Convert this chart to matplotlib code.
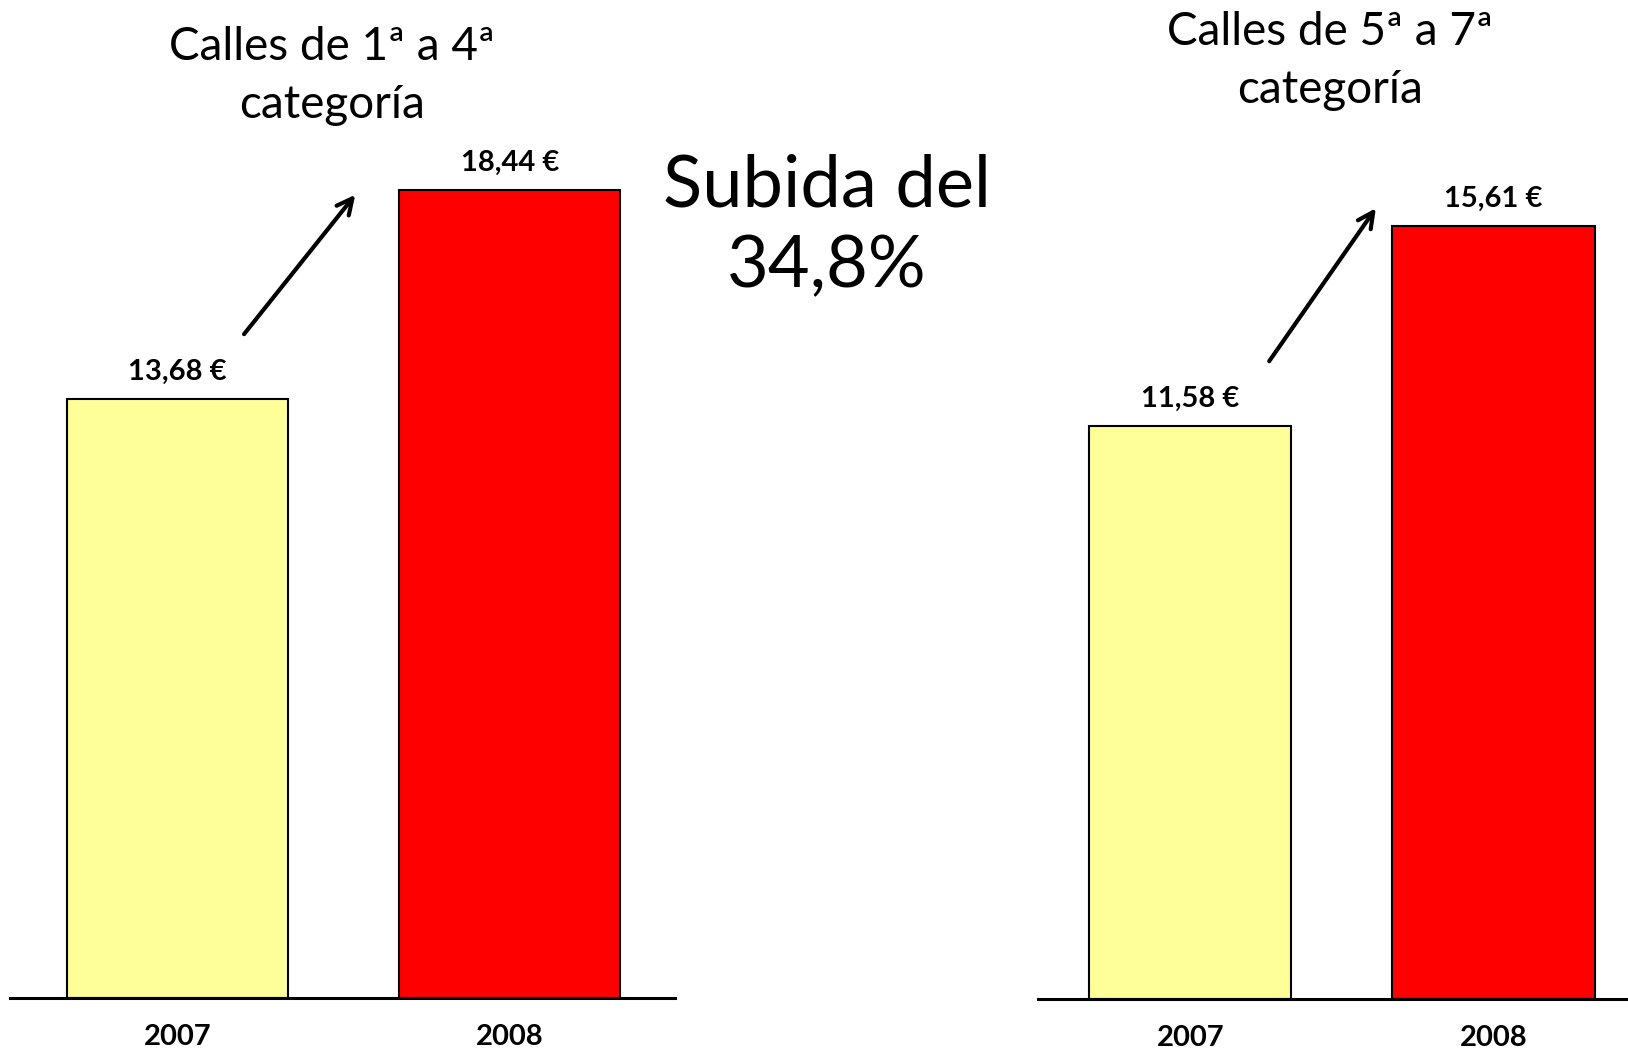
import numpy as np
import matplotlib
matplotlib.use('Agg')
import matplotlib.pyplot as plt

plt.rcParams['font.family'] = ['Lato', 'DejaVu Sans']

years = ['2007', '2008']
cat_1_4 = [13.68, 18.44]
cat_5_7 = [11.58, 15.61]
titles = ['Calles de 1ª a 4ª\ncategoría', 'Calles de 5ª a 7ª\ncategoría']
subida_text = 'Subida del\n34,8%'
bar_colors = ['#FFFF99', '#FF0000']

W, H = 1628, 1051
fig = plt.figure(figsize=(W / 100, H / 100), dpi=100)


def px_axes(x0, x1, y_base):
    # axes from pixel coords (top-left origin), running up to the top edge
    return fig.add_axes([x0 / W, 1 - y_base / H, (x1 - x0) / W, y_base / H])


def draw_panel(ax, values, ymax, xlim, arrow_from, arrow_to):
    x = np.arange(len(values))
    bars = ax.bar(x, values, width=0.667, color=bar_colors,
                  edgecolor='black', linewidth=1.5, zorder=2)
    labels = [f'{v:.2f}'.replace('.', ',') + ' €' for v in values]
    ax.bar_label(bars, labels, padding=10, fontsize=21, fontweight='bold')
    ax.set_xlim(*xlim)
    ax.set_ylim(0, ymax)
    ax.set_xticks(x, years, fontsize=21, fontweight='bold')
    ax.tick_params(axis='x', length=0, pad=19)
    ax.set_yticks([])
    for side in ['left', 'right', 'top']:
        ax.spines[side].set_visible(False)
    ax.spines['bottom'].set_linewidth(2.2)
    ax.spines['bottom'].set_color('black')
    ax.patch.set_alpha(0)
    ax.annotate('', xy=arrow_to, xytext=arrow_from,
                arrowprops=dict(arrowstyle='->', lw=3, color='black',
                                mutation_scale=28, shrinkA=0, shrinkB=0))


ax1 = px_axes(10, 675, 998)
draw_panel(ax1, cat_1_4, 998 / 43.82, (-0.505, 1.498),
           (0.20, cat_1_4[0] + 1.47), (0.535, cat_1_4[1] - 0.11))

ax2 = px_axes(1038, 1628, 999)
draw_panel(ax2, cat_5_7, 999 / 49.52, (-0.503, 1.444),
           (0.26, cat_5_7[0] + 1.30), (0.612, cat_5_7[1] + 0.36))

fig.text(332 / W, 1 - 76 / H, titles[0], ha='center', va='center',
         fontsize=33, linespacing=1.45)
fig.text(1330 / W, 1 - 61 / H, titles[1], ha='center', va='center',
         fontsize=33, linespacing=1.45)
fig.text(827 / W, 1 - 226 / H, subida_text, ha='center', va='center',
         fontsize=52, linespacing=1.3)

fig.savefig('out.png', dpi=100, facecolor='white')
